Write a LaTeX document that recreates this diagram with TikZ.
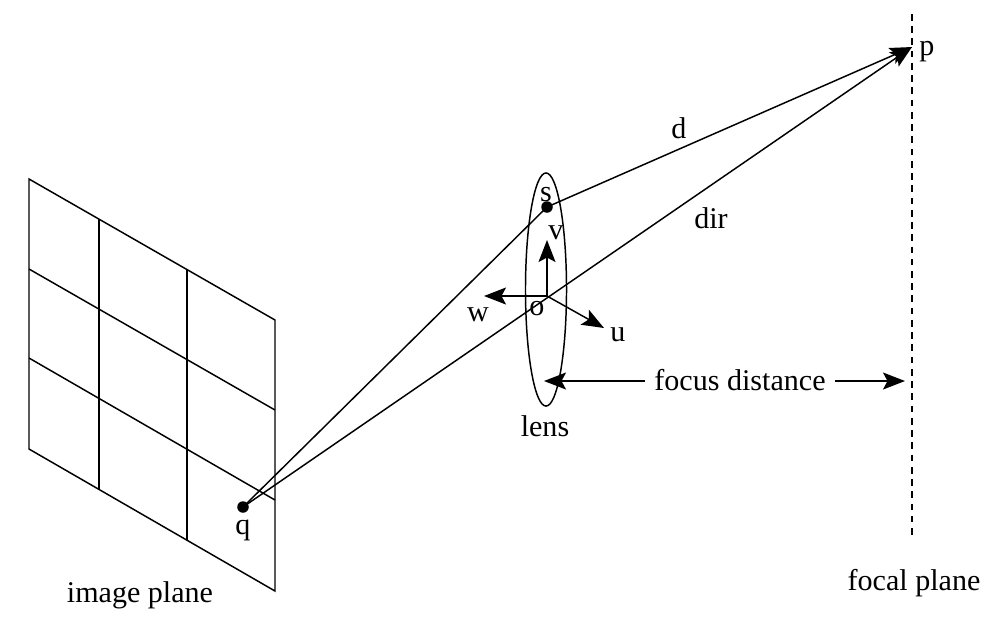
\documentclass[tikz,border=0pt]{standalone}
\usepackage{fontspec}
\setmainfont{Liberation Serif}
\usetikzlibrary{arrows.meta,shapes.geometric}
\tikzset{
  ray/.style={draw=black,line width=0.42pt},
  axis/.style={ray,-{Stealth[length=0.22cm,width=0.17cm,inset=0.045cm]}},
  dot/.style={circle,fill=black,inner sep=0pt,minimum size=0.115cm},
  lbl/.style={anchor=base,inner sep=0pt,font=\fontsize{8.55}{10}\selectfont},
}
\begin{document}
\begin{tikzpicture}[x=0.01cm,y=-0.01cm]
\useasboundingbox (0,0) rectangle (1003,623);
% image plane
\coordinate (c1) at (29,179);
\coordinate (c2) at (275,320);
\coordinate (c3) at (275,591);
\coordinate (c4) at (29,449);
\draw[ray] (c1) -- (c2) -- (c3) -- (c4) -- cycle;
\coordinate (t1) at (99,219);
\coordinate (b1) at (99,489);
\coordinate (t2) at (187,270);
\coordinate (b2) at (187,540);
\coordinate (l1) at (29,269);
\coordinate (r1) at (275,410);
\coordinate (l2) at (29,358);
\coordinate (r2) at (275,500);
\draw[ray] (t1) -- (b1);
\draw[ray] (t2) -- (b2);
\draw[ray] (l1) -- (r1);
\draw[ray] (l2) -- (r2);
% lens
\node[ray,ellipse,inner sep=0pt,minimum width=0.41cm,minimum height=2.33cm] (lens) at (546,289.5) {};
% focal plane
\coordinate (ftop) at (912,14);
\coordinate (fbot) at (912,535);
\draw[ray,dash pattern=on 1.9pt off 1.58pt] (ftop) -- (fbot);
% rays
\coordinate (p) at (912,47);
\node[dot] (q) at (243,507) {};
\node[dot] (s) at (547,207) {};
\draw[ray] (q.center) -- (s.center);
\draw[axis] (s.center) -- (p);
\draw[axis] (q.center) -- (p);
% lens frame
\coordinate (o) at (547,296);
\coordinate (vtip) at (547,240);
\coordinate (wtip) at (484,296);
\coordinate (utip) at (604,328);
\draw[axis] (o) -- (vtip);
\draw[axis] (o) -- (wtip);
\draw[axis] (o) -- (utip);
% focus distance
\node[lbl,inner xsep=0.09cm] (focus) at (740,390) {focus distance};
\coordinate (fl) at (544,381);
\coordinate (fr) at (905,381);
\draw[axis] (focus.west |- fl) -- (fl);
\draw[axis] (focus.east |- fr) -- (fr);
% labels
\node[lbl] (plabel) at (927,55) {p};
\node[lbl] (qlabel) at (243,534) {q};
\node[lbl] (slabel) at (546,201) {s};
\node[lbl] (dlabel) at (679,138) {d};
\node[lbl] (dirlabel) at (711,228) {dir};
\node[lbl] (vlabel) at (556,239) {v};
\node[lbl] (olabel) at (537,315) {o};
\node[lbl] (wlabel) at (478,321) {w};
\node[lbl] (ulabel) at (618,341) {u};
\node[lbl] (lenslabel) at (545,436) {lens};
\node[lbl] (imagelabel) at (140,602) {image plane};
\node[lbl] (focallabel) at (914,590) {focal plane};
\end{tikzpicture}
\end{document}
